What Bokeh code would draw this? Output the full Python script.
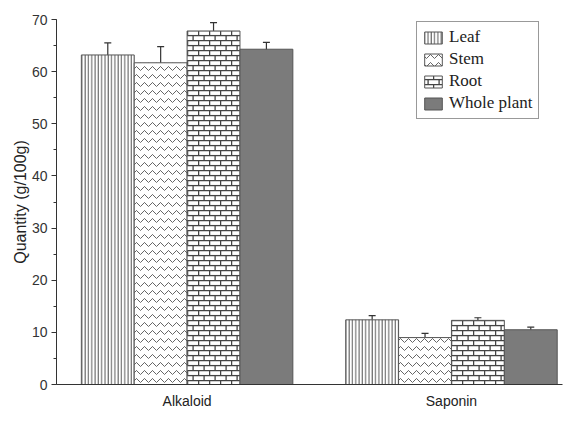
import base64
from bokeh.plotting import figure
from bokeh.models import (ColumnDataSource, Range1d, FixedTicker, Whisker, TeeHead,
                          Legend, LegendItem, ImageURLTexture)
from bokeh.core.properties import value
from bokeh.embed import file_html
from bokeh.resources import INLINE

groups = ["Alkaloid", "Saponin"]
parts = ["Leaf", "Stem", "Root", "Whole plant"]
leaf = [63.2, 12.4]
stem = [61.7, 9.0]
root = [67.8, 12.3]
whole = [64.3, 10.5]
leaf_err = [2.3, 0.8]
stem_err = [3.1, 0.8]
root_err = [1.6, 0.5]
whole_err = [1.3, 0.5]

values = [leaf, stem, root, whole]
errors = [leaf_err, stem_err, root_err, whole_err]

brick_svg = ('<svg xmlns="http://www.w3.org/2000/svg" width="11" height="10">'
             '<rect width="11" height="10" fill="#ffffff"/>'
             '<g stroke="#444" stroke-width="1.3" fill="none">'
             '<line x1="0" y1="0.6" x2="11" y2="0.6"/>'
             '<line x1="0" y1="5.6" x2="11" y2="5.6"/>'
             '<line x1="0.6" y1="0.6" x2="0.6" y2="5.6"/>'
             '<line x1="6.1" y1="5.6" x2="6.1" y2="10"/>'
             '</g></svg>')
brick_url = "data:image/svg+xml;base64," + base64.b64encode(brick_svg.encode()).decode()

p = figure(frame_width=506, frame_height=365, output_backend="svg", toolbar_location=None,
           x_range=Range1d(-0.494, 1.42), y_range=Range1d(0, 70),
           min_border_left=56, min_border_top=19, min_border_right=1, min_border_bottom=20)
p.outline_line_color = None
p.xgrid.visible = False
p.ygrid.visible = False

width = 0.2
offsets = [-0.3, -0.1, 0.1, 0.3]
styles = [
    dict(fill_color="white", hatch_pattern="vertical_line", hatch_scale=3.3, hatch_weight=1, hatch_color="#555"),
    dict(fill_color="white", hatch_pattern="horizontal_wave", hatch_scale=8, hatch_weight=1, hatch_color="#666"),
    dict(fill_color="white", hatch_pattern=value("brick"),
         hatch_extra={"brick": ImageURLTexture(url=brick_url, repetition="repeat")}),
    dict(fill_color="#7b7b7b"),
]

items = []
for name, vals, errs, off, st in zip(parts, values, errors, offsets, styles):
    xs = [g + off for g in range(len(groups))]
    src = ColumnDataSource(dict(x=xs, top=vals, up=[v + e for v, e in zip(vals, errs)],
                                lo=[v - e for v, e in zip(vals, errs)]))
    r = p.vbar(x="x", top="top", width=width, source=src, line_color="#555", line_width=1, **st)
    items.append(LegendItem(label=name, renderers=[r]))
    w = Whisker(base="x", upper="up", lower="lo", source=src, line_color="#333", line_width=1.2,
                upper_head=TeeHead(size=7, line_color="#333", line_width=1.2),
                lower_head=TeeHead(size=7, line_color="#333", line_width=1.2))
    p.add_layout(w)

p.xaxis.ticker = FixedTicker(ticks=list(range(len(groups))))
p.xaxis.major_label_overrides = {i: g for i, g in enumerate(groups)}
p.xaxis.major_tick_line_color = None
p.xaxis.minor_tick_line_color = None
p.xaxis.major_label_standoff = 2
p.xaxis.major_label_text_font = "Liberation Sans"
p.xaxis.major_label_text_font_size = "14px"
p.xaxis.major_label_text_color = "#222"
p.xaxis.axis_line_color = "#333"

p.yaxis.ticker = FixedTicker(ticks=list(range(0, 71, 10)), minor_ticks=list(range(0, 71, 5)))
p.yaxis.axis_line_color = "#333"
p.yaxis.major_tick_line_color = "#333"
p.yaxis.minor_tick_line_color = "#333"
p.yaxis.major_tick_out = 5
p.yaxis.major_tick_in = 0
p.yaxis.minor_tick_out = 3
p.yaxis.minor_tick_in = 0
p.yaxis.major_label_standoff = 4
p.yaxis.major_label_text_font = "Liberation Sans"
p.yaxis.major_label_text_font_size = "14px"
p.yaxis.major_label_text_color = "#333"
p.yaxis.axis_label = "Quantity (g/100g)"
p.yaxis.axis_label_text_font = "Liberation Sans"
p.yaxis.axis_label_text_font_style = "normal"
p.yaxis.axis_label_text_font_size = "16px"
p.yaxis.axis_label_text_color = "#222"
p.yaxis.axis_label_standoff = 0

legend = Legend(items=items, location=(360, 265), orientation="vertical",
                label_text_font="Liberation Serif", label_text_font_size="17px",
                label_text_color="#222", glyph_width=22, glyph_height=15,
                spacing=2, padding=5, margin=0, label_standoff=5, label_height=19,
                border_line_color="#333", border_line_width=1.5,
                background_fill_color="white", background_fill_alpha=1)
p.add_layout(legend)

open("out.html", "w").write(file_html(p, INLINE))
